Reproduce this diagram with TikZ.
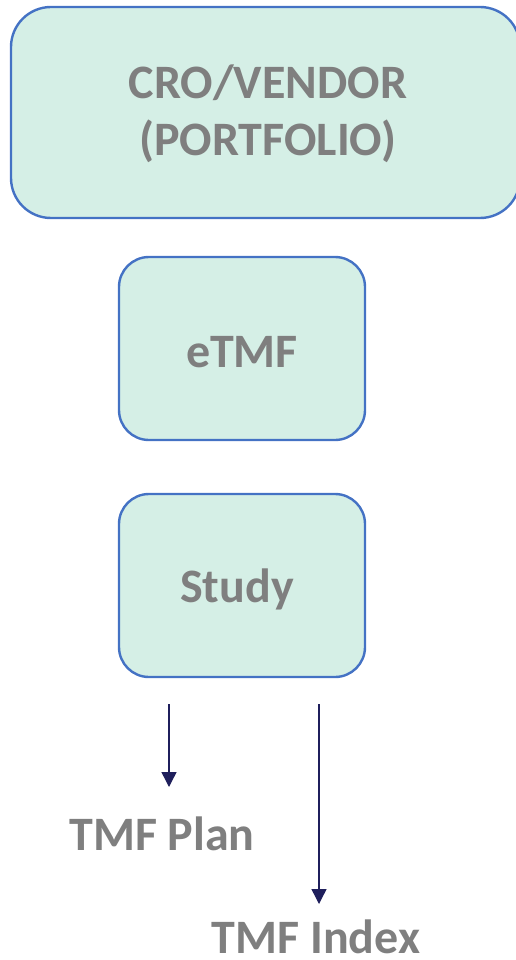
\documentclass[tikz,border=0pt]{standalone}
\usepackage{fontspec}
\setmainfont{Carlito}
\usetikzlibrary{arrows.meta}
\definecolor{boxfill}{HTML}{D5EFE6}
\definecolor{boxline}{HTML}{4472C4}
\definecolor{labelgray}{HTML}{7F7F7F}
\definecolor{arrownavy}{HTML}{1F1F5C}
\tikzset{
  card/.style={draw=boxline, fill=boxfill, line width=2.4pt, rounded corners=#1},
  cardtext/.style={font=\fontsize{48}{57}\selectfont\bfseries, text=labelgray, align=center},
  link/.style={draw=arrownavy, line width=1.4pt, -{Triangle[length=15pt,width=15pt]}}
}
\begin{document}
\begin{tikzpicture}[x=1pt,y=-1pt]
  \useasboundingbox (0,0) rectangle (516,960);
  \clip (0,0) rectangle (516,960);
  % boxes
  \draw[card=40pt] (11,7) rectangle (520,218);
  \draw[card=30pt] (119,257) rectangle (365,440);
  \draw[card=30pt] (119,494) rectangle (365,677);
  % box labels
  \node[cardtext] (portfolio) at (268,114) {CRO/VENDOR\\(PORTFOLIO)};
  \node[cardtext] (etmf) at (242,352) {eTMF};
  \node[cardtext] (study) at (237,589) {Study};
  % outputs of the study
  \node[cardtext] (plan) at (162,834) {TMF Plan};
  \node[cardtext, anchor=base, inner sep=0pt, text depth=0pt] (index) at (316,953) {TMF Index};
  \coordinate (planfrom) at (169,704);
  \coordinate (planto) at (169,787);
  \coordinate (indexfrom) at (319,704);
  \coordinate (indexto) at (319,904);
  \draw[link] (planfrom) -- (planto);
  \draw[link] (indexfrom) -- (indexto);
\end{tikzpicture}
\end{document}
